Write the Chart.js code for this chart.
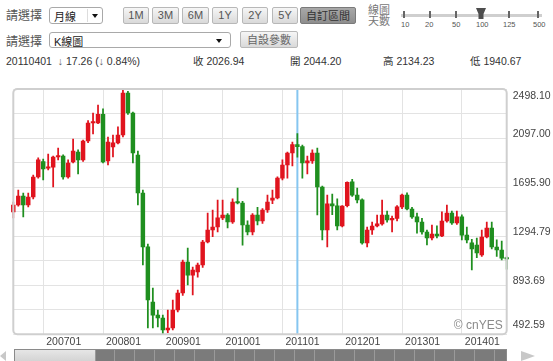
<!DOCTYPE html>
<html><head><meta charset="utf-8">
<script src="https://cdn.jsdelivr.net/npm/chart.js@4.4.1/dist/chart.umd.min.js"></script>
<style>
html,body{margin:0;padding:0;background:#fff;width:553px;height:361px;overflow:hidden;font-family:"Liberation Sans",Arial,"Noto Sans CJK TC",sans-serif;}
.a{position:absolute;white-space:nowrap;}
.lbl{font-size:12px;color:#555;line-height:14px;font-family:"Noto Sans CJK TC",sans-serif;}
.sel{border:1px solid #a9a9a9;border-radius:3px;background:#fff;box-sizing:border-box;}
.sel span{position:absolute;font-size:11px;color:#222;top:1px;left:4px;line-height:14px;}
.arr{position:absolute;width:0;height:0;border-left:3.5px solid transparent;border-right:3.5px solid transparent;border-top:4px solid #111;}
.btn{box-sizing:border-box;height:17px;border:1px solid #b8b8b8;border-radius:2px;background:linear-gradient(#f6f6f6,#d9d9d9);font-size:11px;color:#555;text-align:center;line-height:15px;}
.on{background:linear-gradient(#a8a8a8,#8e8e8e);border-color:#7a7a7a;color:#333;}
.info{font-size:10.5px;color:#333;line-height:12px;}
.tk{position:absolute;width:2px;height:7px;background:#666;top:11px;}
.sl{position:absolute;font-size:7.5px;color:#555;top:20px;line-height:9px;}
#wrap{position:absolute;left:0;top:80px;width:553px;height:270px;}
</style></head>
<body>
<div class="a lbl" style="left:6px;top:8px">請選擇</div>
<div class="a sel" style="left:49px;top:7px;width:54px;height:17px"><span style="font-family:'Noto Sans CJK TC'">月線</span><div style="position:absolute;left:37px;top:1px;width:1px;height:13px;background:#ddd"></div><div class="arr" style="left:42px;top:6px"></div></div>
<div class="a btn" style="left:123px;top:7px;width:26px">1M</div>
<div class="a btn" style="left:152px;top:7px;width:27px">3M</div>
<div class="a btn" style="left:182px;top:7px;width:27px">6M</div>
<div class="a btn" style="left:212px;top:7px;width:26px">1Y</div>
<div class="a btn" style="left:242px;top:7px;width:26px">2Y</div>
<div class="a btn" style="left:272px;top:7px;width:26px">5Y</div>
<div class="a btn on" style="left:300px;top:7px;width:56px;font-family:'Noto Sans CJK TC'">自訂區間</div>
<div class="a" style="left:368px;top:4px;font-size:11px;line-height:11px;color:#777;font-family:'Noto Sans CJK TC'">線圖<br>天數</div>
<div class="a" style="left:401px;top:14px;width:141px;height:3px;background:#cfcfcf"></div>
<div class="tk" style="left:403px"></div><div class="tk" style="left:429px"></div><div class="tk" style="left:455px"></div><div class="tk" style="left:508px"></div><div class="tk" style="left:537px"></div>
<div class="a" style="left:476px;top:8px;width:10px;height:11px;background:#4d4d4d;clip-path:polygon(0 0,100% 0,75% 55%,75% 100%,25% 100%,25% 55%)"></div>
<div class="sl" style="left:401px">10</div><div class="sl" style="left:425px">20</div><div class="sl" style="left:452px">50</div><div class="sl" style="left:476px">100</div><div class="sl" style="left:503px">125</div><div class="sl" style="left:533px">500</div>

<div class="a lbl" style="left:6px;top:34px">請選擇</div>
<div class="a sel" style="left:49px;top:32px;width:182px;height:16px"><span>K<span style="position:static;font-family:'Noto Sans CJK TC'">線圖</span></span><div class="arr" style="left:166px;top:6px"></div></div>
<div class="a btn" style="left:240px;top:31px;width:58px;height:17px;font-family:'Noto Sans CJK TC';color:#666">自設參數</div>

<div class="a info" style="left:6px;top:55px">20110401&nbsp; <span style="color:#666">↓</span> 17.26 (<span style="color:#666">↓</span> 0.84%)</div>
<div class="a info" style="left:193px;top:55px"><span style="font-family:'Noto Sans CJK TC'">收</span> 2026.94</div>
<div class="a info" style="left:290px;top:55px"><span style="font-family:'Noto Sans CJK TC'">開</span> 2044.20</div>
<div class="a info" style="left:383px;top:55px"><span style="font-family:'Noto Sans CJK TC'">高</span> 2134.23</div>
<div class="a info" style="left:470px;top:55px"><span style="font-family:'Noto Sans CJK TC'">低</span> 1940.67</div>

<div id="wrap"><canvas id="c"></canvas></div>

<!-- scrollbar -->
<div class="a" style="left:0px;top:351px;width:0;height:0;border-top:5px solid transparent;border-bottom:5px solid transparent;border-right:6px solid #c8c8c8"></div>
<div class="a" style="left:14px;top:349px;width:493px;height:14px;box-sizing:border-box;border:1px solid #8a8a8a;background:repeating-linear-gradient(90deg,#7b7b7b 0,#7b7b7b 19px,#9a9a9a 19px,#9a9a9a 20px)"></div>
<div class="a" style="left:15px;top:350px;width:80px;height:12px;background:linear-gradient(#e6e6e6,#d2d2d2);border-right:1px solid #999"></div>
<div class="a" style="left:521px;top:351px;width:0;height:0;border-top:5px solid transparent;border-bottom:5px solid transparent;border-left:14px solid #c8c8c8"></div>

<script>
const months = [
 '200607','200608','200609','200610','200611','200612',
 '200701','200702','200703','200704','200705','200706','200707','200708','200709','200710','200711','200712',
 '200801','200802','200803','200804','200805','200806','200807','200808','200809','200810','200811','200812',
 '200901','200902','200903','200904','200905','200906','200907','200908','200909','200910','200911','200912',
 '201001','201002','201003','201004','201005','201006','201007','201008','201009','201010','201011','201012',
 '201101','201102','201103','201104','201105','201106','201107','201108','201109','201110','201111','201112',
 '201201','201202','201203','201204','201205','201206','201207','201208','201209','201210','201211','201212',
 '201301','201302','201303','201304','201305','201306','201307','201308','201309','201310','201311','201312',
 '201401','201402','201403','201404','201405','201406','201407','201408','201409','201410'
];
const opens = [
 1493,1550,1623,1550,1615,1779,
 1905,1850,1860,1942,1950,1779,1901,1983,1918,2073,2220,2220,
 2290,1910,2024,2057,2122,2465,2302,1958,1648,1207,757,650,
 626,528,544,691,830,1084,977,1002,1059,1247,1345,1370,
 1444,1468,1411,1574,1566,1386,1329,1468,1419,1509,1590,1607,
 1770,1877,1975,2044.20,2027,1893,1910,1975,1697,1345,1560,1542,
 1378,1545,1740,1631,1591,1240,1345,1378,1395,1468,1427,1440,
 1534,1631,1517,1452,1411,1329,1280,1312,1296,1419,1484,1403,
 1452,1304,1240,1223,1141,1288,1362,1206,1182,1116
];
const highs = [
 1574,1672,1648,1648,1795,1935,
 1925,1966,1950,2016,1960,1918,2089,2000,2081,2240,2302,2367,
 2335,2106,2122,2188,2498.10,2480,2310,1990,1672,1230,871,691,
 650,691,773,855,1100,1198,1043,1075,1260,1484,1509,1590,
 1590,1480,1600,1688,1580,1420,1480,1530,1520,1631,1672,1780,
 1918,1983,2065,2134.23,2040,1950,2000,2015,1705,1631,1640,1600,
 1545,1740,1760,1688,1600,1370,1410,1468,1590,1500,1460,1545,
 1640,1650,1530,1484,1440,1345,1386,1380,1493,1550,1500,1500,
 1470,1370,1270,1280,1345,1411,1411,1264,1255,1125
];
const lows = [
 1445,1541,1452,1533,1600,1770,
 1754,1836,1697,1918,1760,1770,1893,1803,1905,2060,2130,2215,
 1893,1877,1942,2050,2106,2290,1893,1550,1059,544,544,553,
 492.59,505,528,675,810,896,814,960,1040,1240,1290,1330,
 1430,1362,1400,1558,1222,1305,1305,1386,1400,1490,1560,1600,
 1754,1770,1870,1940.67,1770,1803,1890,1468,1264,1206,1470,1345,
 1370,1535,1620,1566,1230,1206,1310,1370,1385,1410,1330,1420,
 1520,1510,1440,1320,1312,1223,1264,1280,1290,1410,1390,1390,
 1264,1240,1018,1120,1130,1280,1190,1130,1100,1026
];
const closes = [
 1550,1623,1550,1615,1779,1918,
 1844,1860,1942,1950,1779,1893,1991,1918,2073,2220,2228,2290,
 1901,2065,2057,2122,2465,2302,1975,1648,1207,773,650,626,
 528,544,691,830,1084,977,1018,1059,1247,1345,1370,1444,
 1468,1411,1574,1566,1386,1329,1468,1419,1509,1574,1607,1770,
 1877,1975,2044.20,2026.94,1893,1910,1975,1697,1345,1560,1542,1378,
 1540,1735,1631,1591,1240,1345,1378,1395,1468,1427,1440,1534,
 1631,1517,1452,1411,1329,1280,1312,1296,1419,1484,1403,1452,
 1304,1264,1190,1157,1288,1362,1206,1182,1116,1108
];
const xTickLabels = ['200701','200801','200901','201001','201101','201201','201301','201401'];
const yTickLabels = ['2498.10','2097.00','1695.90','1294.79','893.69','492.59'];
const yMin = 492.59, yMax = 2498.10;
const crossMonth = '201104';

const UP = '#e0141e', DOWN = '#1f8f1f';
const colors = closes.map((c, i) => c >= opens[i] ? UP : DOWN);

const framePlugin = {
  id: 'frame',
  beforeDatasetsDraw(chart) {
    const {ctx, chartArea: a, scales} = chart;
    const x = scales.x.getPixelForValue(months.indexOf(crossMonth));
    ctx.save();
    ctx.strokeStyle = '#86c6f0';
    ctx.lineWidth = 2;
    ctx.beginPath(); ctx.moveTo(x, a.top); ctx.lineTo(x, a.bottom); ctx.stroke();
    ctx.restore();
  },
  afterDraw(chart) {
    const {ctx, chartArea: a, scales} = chart;
    ctx.save();
    ctx.strokeStyle = '#cfcfcf';
    ctx.lineWidth = 2;
    ctx.beginPath();
    ctx.roundRect(a.left, a.top, a.right - a.left, a.bottom - a.top, 4);
    ctx.stroke();
    ctx.fillStyle = '#8a8a8a';
    ctx.font = '12px "Liberation Sans", Arial, sans-serif';
    ctx.textAlign = 'right'; ctx.textBaseline = 'middle';
    ctx.fillText('© cnYES', a.right - 4, a.bottom - 9);
    ctx.fillStyle = '#444';
    ctx.font = '10.5px "Liberation Sans", Arial, sans-serif';
    ctx.textAlign = 'left';
    yTickLabels.forEach(t => {
      let y = scales.y.getPixelForValue(parseFloat(t)) - 4;
      y = Math.max(a.top + 7, Math.min(a.bottom - 9, y));
      ctx.fillText(t, a.right + 6, y);
    });
    ctx.restore();
  }
};

new Chart(document.getElementById('c'), {
  type: 'bar',
  data: {
    labels: months,
    datasets: [
      { data: opens.map((o, i) => [o, closes[i]]), backgroundColor: colors, barThickness: 3.8, minBarLength: 1.5, grouped: false, clip: 4 },
      { data: lows.map((l, i) => [l, highs[i]]), backgroundColor: colors, barThickness: 1.1, grouped: false, clip: 4 }
    ]
  },
  options: {
    responsive: true, maintainAspectRatio: false, animation: false,
    layout: { padding: { left: 13.3, right: 46.3, top: 9, bottom: 0 } },
    plugins: { legend: { display: false }, tooltip: { enabled: false } },
    scales: {
      x: {
        type: 'category', offset: false,
        grid: { offset: false, color: '#e3e3e3', drawTicks: false },
        border: { display: false },
        afterBuildTicks: (axis) => { axis.ticks = xTickLabels.map(l => ({ value: months.indexOf(l) })); },
        afterFit: (s) => { s.height = 15.7; },
        ticks: { autoSkip: false, maxRotation: 0, align: 'start', labelOffset: 3, padding: 2, color: '#444', font: { size: 10.5, family: '"Liberation Sans", Arial, sans-serif' } }
      },
      y: {
        type: 'linear', position: 'right', min: yMin, max: yMax,
        afterBuildTicks: (axis) => { const t = []; for (let k = 0; k <= 10; k++) t.push({ value: yMin + k * (yMax - yMin) / 10 }); axis.ticks = t; },
        afterFit: (s) => { s.width = 0; },
        grid: { color: '#e3e3e3', drawTicks: false },
        border: { display: false },
        ticks: { display: false }
      }
    }
  },
  plugins: [framePlugin]
});
</script>
</body></html>
